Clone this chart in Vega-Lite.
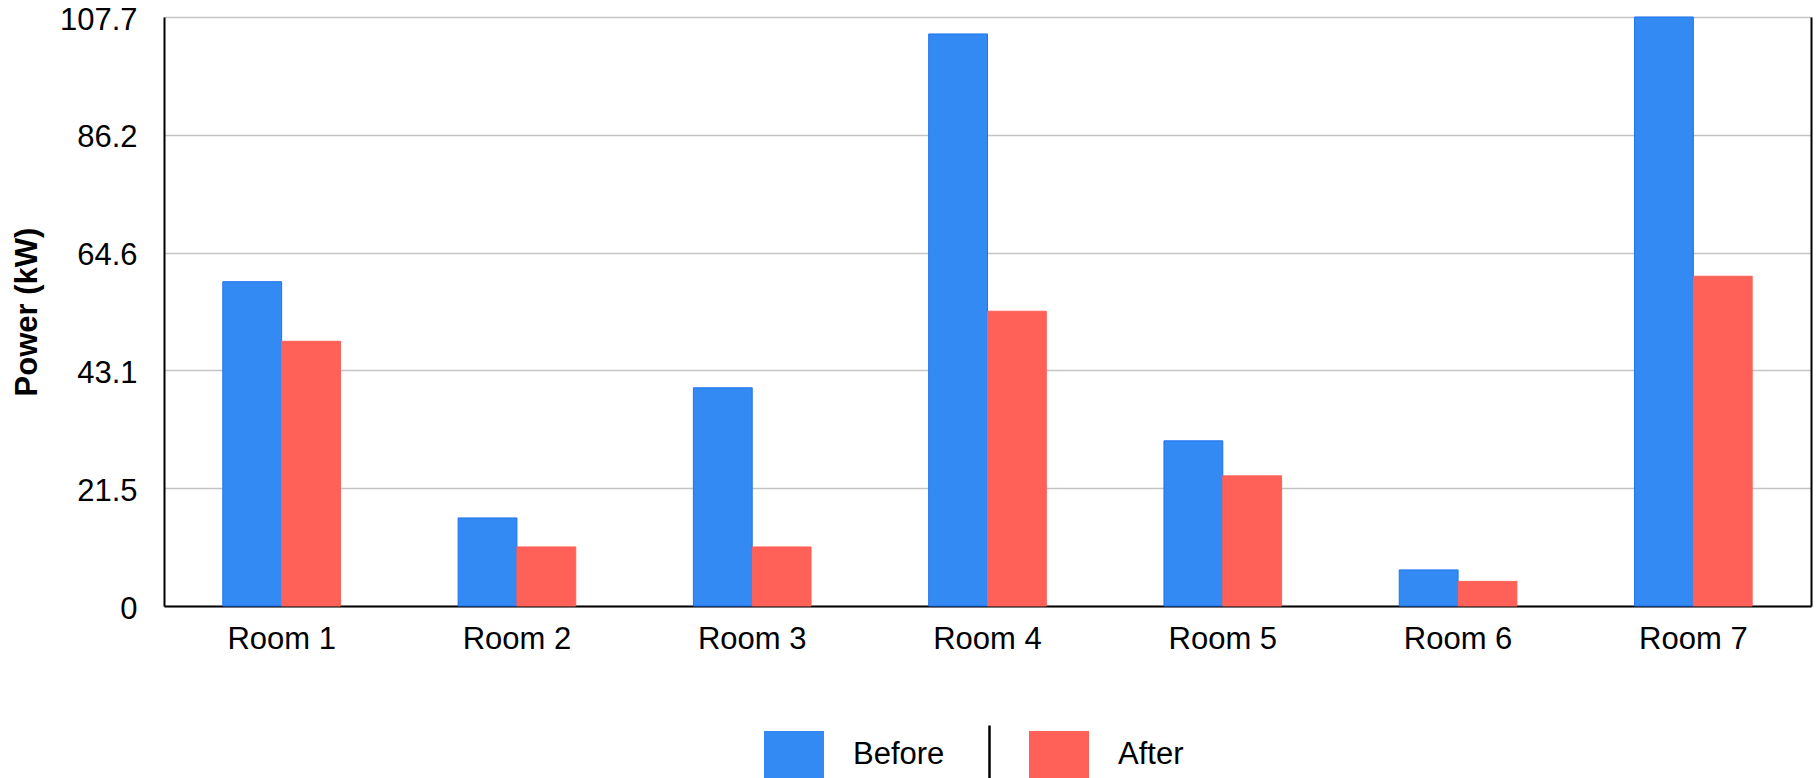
{
  "$schema": "https://vega.github.io/schema/vega-lite/v6.json",
  "autosize": {"type": "none"},
  "padding": {"left": 164, "top": 17, "right": 9, "bottom": 172},
  "width": 1647,
  "height": 589,
  "background": "white",
  "config": {
    "font": "Liberation Sans",
    "view": {"stroke": null},
    "axis": {"labelFont": "Liberation Sans", "titleFont": "Liberation Sans", "labelColor": "black", "titleColor": "black"}
  },
  "data": {
    "values": [
      {"room": "Room 1", "phase": "Before", "power": 59.3},
      {"room": "Room 1", "phase": "After", "power": 48.4},
      {"room": "Room 2", "phase": "Before", "power": 16.1},
      {"room": "Room 2", "phase": "After", "power": 10.8},
      {"room": "Room 3", "phase": "Before", "power": 39.9},
      {"room": "Room 3", "phase": "After", "power": 10.8},
      {"room": "Room 4", "phase": "Before", "power": 104.6},
      {"room": "Room 4", "phase": "After", "power": 53.9},
      {"room": "Room 5", "phase": "Before", "power": 30.2},
      {"room": "Room 5", "phase": "After", "power": 23.8},
      {"room": "Room 6", "phase": "Before", "power": 6.6},
      {"room": "Room 6", "phase": "After", "power": 4.5},
      {"room": "Room 7", "phase": "Before", "power": 107.7},
      {"room": "Room 7", "phase": "After", "power": 60.3}
    ]
  },
  "layer": [
    {
      "mark": {"type": "bar", "strokeWidth": 1},
      "encoding": {
        "x": {
          "field": "room", "type": "nominal", "sort": null,
          "scale": {"paddingInner": 0.5, "paddingOuter": 0.25},
          "axis": {"title": null, "labelAngle": 0, "labelFontSize": 31, "ticks": false, "tickSize": 0, "labelPadding": 18, "domainColor": "black", "domainWidth": 2, "grid": false}
        },
        "xOffset": {"field": "phase", "type": "nominal", "sort": ["Before", "After"], "scale": {"paddingInner": 0, "paddingOuter": 0}},
        "y": {
          "field": "power", "type": "quantitative",
          "scale": {"domain": [0, 107.7], "nice": false, "zero": true},
          "axis": {
            "title": "Power (kW)", "titleFontSize": 31, "titleFontWeight": "bold", "titlePadding": 16,
            "values": [0, 21.54, 43.08, 64.62, 86.16, 107.7],
            "labelExpr": "datum.value == 0 ? '0' : format(datum.value, '.1f')",
            "labelFontSize": 31, "labelPadding": 27, "ticks": false, "tickSize": 0, "labelOffset": 3,
            "domainColor": "black", "domainWidth": 2,
            "grid": true, "gridColor": "#c4c4c4", "gridWidth": 1.3
          }
        },
        "color": {
          "field": "phase", "type": "nominal", "sort": ["Before", "After"],
          "scale": {"domain": ["Before", "After"], "range": ["#338AF3", "#FF6159"]},
          "legend": {
            "title": null, "orient": "none", "legendX": 600, "legendY": 708, "direction": "horizontal", "columns": 2,
            "symbolType": "M-1,-0.8H1V0.8H-1Z", "symbolSize": 3600, "symbolStrokeWidth": 0,
            "labelFontSize": 31, "labelColor": "black", "labelOffset": 29, "columnPadding": 84, "padding": 0
          }
        },
        "stroke": {
          "field": "phase", "type": "nominal",
          "scale": {"domain": ["Before", "After"], "range": ["#1f72f0", "#FF6159"]},
          "legend": null
        }
      }
    },
    {
      "mark": {"type": "bar", "opacity": 0},
      "encoding": {
        "x": {"field": "room", "type": "nominal", "sort": null},
        "y": {
          "field": "power", "type": "quantitative",
          "scale": {"domain": [0, 107.7], "nice": false},
          "axis": {"orient": "right", "title": null, "labels": false, "ticks": false, "grid": false, "domainColor": "black", "domainWidth": 2}
        }
      }
    },
    {
      "mark": {"type": "point", "size": 0, "filled": false},
      "encoding": {
        "x": {"field": "room", "type": "nominal", "sort": null},
        "y": {"field": "power", "type": "quantitative", "scale": {"domain": [0, 107.7], "nice": false}, "axis": null},
        "shape": {
          "datum": "separator",
          "scale": {"domain": ["separator"], "range": ["M0,-1V1"]},
          "legend": {
            "title": null, "orient": "none", "legendX": 794, "legendY": 707,
            "symbolSize": 3600, "symbolStrokeColor": "black", "symbolStrokeWidth": 2.5, "symbolOpacity": 1,
            "labelExpr": "''", "labelOffset": 0, "padding": 0
          }
        }
      }
    }
  ],
  "resolve": {"scale": {"y": "independent"}}
}
